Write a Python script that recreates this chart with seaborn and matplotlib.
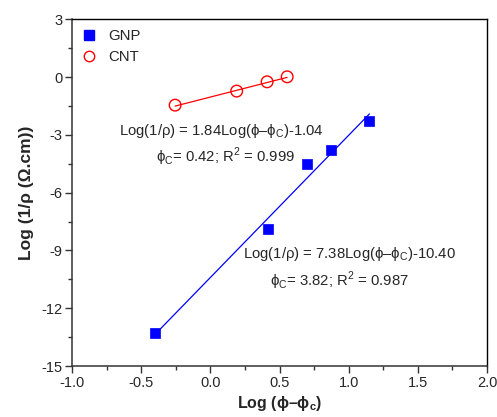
import numpy as np
import pandas as pd
import matplotlib
matplotlib.use('Agg')
import matplotlib.pyplot as plt
import seaborn as sns
from matplotlib.ticker import MultipleLocator
from matplotlib.lines import Line2D

# data
gnp_x = [-0.40, 0.42, 0.70, 0.87, 1.15]
gnp_y = [-13.30, -7.86, -4.52, -3.79, -2.29]
cnt_x = [-0.255, 0.19, 0.41, 0.555]
cnt_y = [-1.46, -0.73, -0.25, 0.01]

# fitted lines (slope, intercept) as printed in the chart
gnp_fit = (7.38, -10.40)
cnt_fit = (1.84, -1.04)

sns.set_style('ticks')
plt.rcParams['font.family'] = ['Liberation Sans', 'DejaVu Sans']
plt.rcParams['mathtext.fontset'] = 'custom'
plt.rcParams['mathtext.rm'] = 'Liberation Sans'
plt.rcParams['mathtext.bf'] = 'Liberation Sans:bold'
plt.rcParams['axes.unicode_minus'] = False

fig = plt.figure(figsize=(4.97, 4.17), dpi=100)
ax = fig.add_axes([0.145, 0.122, 0.835, 0.832])

df_gnp = pd.DataFrame({'x': gnp_x, 'y': gnp_y})
df_cnt = pd.DataFrame({'x': cnt_x, 'y': cnt_y})

# fit lines across each data range
xg = np.array([min(gnp_x), max(gnp_x)])
xc = np.array([min(cnt_x), max(cnt_x)])
ax.plot(xg, gnp_fit[0] * xg + gnp_fit[1], color='blue', lw=0.9, zorder=2)
ax.plot(xc, cnt_fit[0] * xc + cnt_fit[1], color='red', lw=0.9, zorder=2)

sns.scatterplot(data=df_gnp, x='x', y='y', ax=ax, marker='s', s=42,
                color='blue', edgecolor='blue', linewidth=0.5, zorder=3)
sns.scatterplot(data=df_cnt, x='x', y='y', ax=ax, marker='o', s=70,
                facecolor='none', edgecolor='red', linewidth=1.0, zorder=3)

ax.set_xlim(-1.0, 2.0)
ax.set_ylim(-15, 3)
ax.xaxis.set_major_locator(MultipleLocator(0.5))
ax.xaxis.set_minor_locator(MultipleLocator(0.25))
ax.yaxis.set_major_locator(MultipleLocator(3))
ax.yaxis.set_minor_locator(MultipleLocator(1.5))
ax.set_xticks(np.arange(-1.0, 2.01, 0.5))
ax.set_xticklabels([f'{v:.1f}' for v in np.arange(-1.0, 2.01, 0.5)])
ax.tick_params(axis='both', which='major', direction='out', length=5, width=1,
               labelsize=10.5, color='#333333', top=False, right=False, pad=2)
ax.tick_params(axis='both', which='minor', direction='out', length=3, width=1,
               color='#333333', top=False, right=False)
for side in ['left', 'bottom']:
    ax.spines[side].set_color('#333333')
    ax.spines[side].set_linewidth(1.1)
for side in ['top', 'right']:
    ax.spines[side].set_color('black')
    ax.spines[side].set_linewidth(1.0)

ax.set_xlabel(r'Log ($\mathbf{\phi}$–$\mathbf{\phi}_\mathregular{c}$)', fontsize=11.5,
              fontweight='bold', labelpad=3)
ax.set_ylabel('Log (1/ρ (Ω.cm))', fontsize=12.5, fontweight='bold', labelpad=5)

# annotations
ax.text(0.077, -2.81, 'Log(1/ρ) = 1.84Log(ϕ–ϕ$_\\mathregular{C}$)-1.04',
        ha='center', va='center', fontsize=10.7)
ax.text(0.11, -4.16, 'ϕ$_\\mathregular{C}$= 0.42; R$^\\mathregular{2}$ = 0.999',
        ha='center', va='center', fontsize=10.7)
ax.text(1.003, -9.19, 'Log(1/ρ) = 7.38Log(ϕ–ϕ$_\\mathregular{C}$)-10.40',
        ha='center', va='center', fontsize=10.7)
ax.text(0.93, -10.55, 'ϕ$_\\mathregular{C}$= 3.82; R$^\\mathregular{2}$ = 0.987',
        ha='center', va='center', fontsize=10.7)

handles = [
    Line2D([], [], marker='s', color='blue', linestyle='none', markersize=6.5),
    Line2D([], [], marker='o', markerfacecolor='none', markeredgecolor='red',
           linestyle='none', markersize=7.5, markeredgewidth=1.0),
]
ax.legend(handles, ['GNP', 'CNT'], loc='upper left', frameon=False, fontsize=10.7,
          handlelength=1.0, handletextpad=0.8, borderaxespad=0.3, borderpad=0.35,
          labelspacing=0.5, bbox_to_anchor=(0.0, 1.0))

fig.savefig('out.png', dpi=100)
